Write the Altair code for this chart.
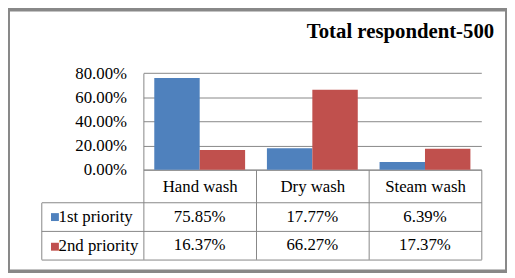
import altair as alt
import pandas as pd

categories = ["Hand wash", "Dry wash", "Steam wash"]
series = ["1st priority", "2nd priority"]
first_priority = [0.7585, 0.1777, 0.0639]
second_priority = [0.1637, 0.6627, 0.1737]
y_ticks = [0.0, 0.2, 0.4, 0.6, 0.8]
title_text = "Total respondent-500"

rows = []
for s, vals in zip(series, [first_priority, second_priority]):
    for c, v in zip(categories, vals):
        rows.append({"cat": c, "series": s, "value": v})
df = pd.DataFrame(rows)

FONT = "Liberation Serif"
FS = 17
GRID = "#868686"
W, H = 505, 265
PX0, PX1 = 137, 479      # plot area x range
PY0, PY80 = 162, 64.3    # y of 0% and 80%
TY0, TY1 = 195.3, 252.7  # data table rows
LEFT = 33.7              # left edge of table label column

base = alt.Chart(df)

bars = base.mark_bar().encode(
    x=alt.X(
        "cat:N",
        sort=categories,
        scale=alt.Scale(domain=categories, range=[PX0, PX1], paddingInner=0, paddingOuter=0),
        axis=alt.Axis(
            orient="bottom", offset=-(H - PY0), title=None,
            domain=True, domainColor=GRID,
            ticks=True, tickBand="extent", tickSize=TY1 - PY0, tickColor=GRID,
            labelPadding=17.5 - (TY1 - PY0), labelBaseline="middle", labelAngle=0,
            labelFont=FONT, labelFontSize=FS, labelColor="black", grid=False,
        ),
    ),
    xOffset=alt.XOffset("series:N", sort=series,
                        scale=alt.Scale(domain=series, paddingInner=0, paddingOuter=0.24)),
    y=alt.Y(
        "value:Q",
        scale=alt.Scale(domain=[0, 0.8], range=[PY0, PY80], nice=False),
        axis=alt.Axis(
            orient="left", offset=-PX0, values=y_ticks, format=".2%", title=None,
            ticks=False, domain=True, domainColor=GRID, grid=True, gridColor=GRID,
            labelPadding=17, labelFont=FONT, labelFontSize=FS, labelColor="black",
        ),
    ),
    color=alt.Color(
        "series:N",
        scale=alt.Scale(domain=series, range=["#4F81BD", "#C0504D"]),
        legend=alt.Legend(
            title=None, orient="none", legendX=39, legendY=201.5, direction="vertical",
            symbolType="square", symbolSize=64, symbolStrokeWidth=0, symbolOffset=0,
            labelFont=FONT, labelFontSize=FS, labelOpacity=0, labelOffset=0,
            labelExpr="' '", rowPadding=12, padding=0,
        ),
    ),
)

table = base.mark_text(font=FONT, fontSize=FS, color="black", baseline="middle", align="center").encode(
    x=alt.X("cat:N", sort=categories,
            scale=alt.Scale(domain=categories, range=[PX0, PX1], paddingInner=0, paddingOuter=0),
            axis=None),
    y=alt.Y("series:N", sort=series,
            scale=alt.Scale(domain=series, range=[TY0, TY1], paddingInner=0, paddingOuter=0),
            axis=None),
    text=alt.Text("value:Q", format=".2%"),
)

table_lines = base.mark_point(opacity=0).encode(
    x=alt.X("cat:N", sort=categories,
            scale=alt.Scale(domain=categories, range=[LEFT, PX1], paddingInner=0, paddingOuter=0),
            axis=alt.Axis(orient="top", offset=0, labels=False, ticks=False, domain=False,
                          grid=False, title=title_text, titleFont=FONT, titleFontSize=21,
                          titleFontWeight="bold", titleColor="black", titleAlign="right",
                          titleAnchor="end", titleBaseline="alphabetic",
                          titleX=491.5, titleY=28.7)),
    y=alt.Y("series:N", sort=series,
            scale=alt.Scale(domain=series, range=[TY0, TY1], paddingInner=0, paddingOuter=0),
            axis=alt.Axis(orient="left", offset=-LEFT, title=None, ticks=False,
                          labels=True, labelAlign="left", labelBaseline="middle",
                          labelPadding=-17, labelFont=FONT, labelFontSize=FS,
                          labelColor="black",
                          domain=True, domainColor=GRID, grid=True, gridColor=GRID,
                          tickBand="extent")),
)

chart = (
    alt.layer(bars, table, table_lines)
    .resolve_scale(x="independent", y="independent")
    .properties(
        width=W, height=H, padding=0,
        autosize=alt.AutoSizeParams(type="none"),
        background="white",
    )
    .configure_view(stroke="#888888", strokeWidth=4, fill="white")
)

chart.save("out.html", embed_options={"renderer": "svg", "actions": False})
